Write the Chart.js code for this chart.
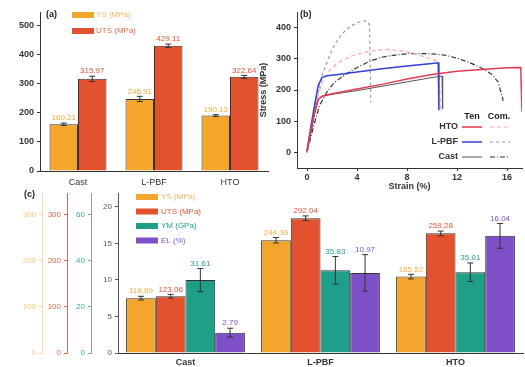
<!DOCTYPE html>
<html>
<head>
<meta charset="utf-8">
<script src="https://cdn.jsdelivr.net/npm/chart.js"></script>
<style>
  body { margin: 0; background: #fff; width: 525px; height: 367px; position: relative; overflow: hidden; }
  canvas { position: absolute; }
</style>
</head>
<body>
<canvas id="panel-a" width="272" height="192" style="left:0;top:0"></canvas>
<canvas id="panel-b" width="267" height="192" style="left:258px;top:0"></canvas>
<canvas id="panel-c" width="525" height="181" style="left:0;top:186px"></canvas>
<script>
// ---- data ----
const groups = ['Cast', 'L-PBF', 'HTO'];

// (a) tensile strength
const tenYS = [160.21, 246.91, 190.13];
const tenYSErr = [4, 9, 3];
const tenUTS = [315.97, 429.11, 322.64];
const tenUTSErr = [9, 6, 5];
const aTicks = [0, 100, 200, 300, 400, 500];

// (b) stress-strain curves (strain %, stress MPa)
const htoTenStrain = [0, 0.3, 0.6, 0.9, 1.2, 2, 4, 6, 8, 10, 12, 14, 16, 17.1, 17.2];
const htoTenStress = [5, 70, 130, 170, 180, 188, 203, 218, 235, 250, 260, 266, 271, 272, 130];
const lpbfTenStrain = [0, 0.3, 0.6, 0.9, 1.2, 1.6, 2.5, 4, 6, 8, 10, 10.5, 10.55];
const lpbfTenStress = [5, 80, 150, 215, 240, 246, 250, 258, 268, 277, 285, 287, 135];
const castTenStrain = [0, 0.3, 0.6, 0.9, 1.2, 2, 3, 4, 6, 8, 10, 10.8, 10.85];
const castTenStress = [3, 60, 120, 168, 180, 186, 192, 198, 212, 226, 240, 245, 140];
const htoComStrain = [0, 0.4, 0.8, 1.2, 1.8, 2.5, 3.5, 4.5, 5.5, 6.5, 7.5, 8.5, 9.5, 10.5, 10.7];
const htoComStress = [0, 90, 170, 225, 262, 288, 308, 320, 327, 330, 326, 318, 305, 292, 140];
const lpbfComStrain = [0, 0.4, 0.8, 1.2, 1.7, 2.2, 2.8, 3.5, 4.2, 4.7, 5.0, 5.1];
const lpbfComStress = [0, 90, 175, 245, 300, 345, 380, 405, 418, 422, 410, 160];
const castComStrain = [0, 0.5, 1, 1.6, 2.2, 3, 4, 5, 6, 7, 8, 9, 10, 11, 12, 13, 14, 14.8, 15.3, 15.7];
const castComStress = [0, 80, 150, 194, 225, 247, 272, 292, 305, 312, 316, 317, 316, 312, 302, 288, 270, 250, 225, 165];
const curveNames = ['HTO', 'L-PBF', 'Cast'];
const strainTicks = [0, 4, 8, 12, 16];
const stressTicks = [0, 100, 200, 300, 400];

// (c) properties
const ysVals = [118.89, 244.36, 165.52];
const ysErr = [4, 6, 5];
const utsVals = [123.06, 292.04, 259.28];
const utsErr = [4, 5, 5];
const ymVals = [31.61, 35.83, 35.01];
const ymErr = [5, 6, 4];
const elVals = [2.79, 10.97, 16.04];
const elErr = [0.6, 2.5, 1.7];
const mpaTicks = [0, 100, 200, 300];
const gpaTicks = [0, 20, 40, 60];
const elTicks = [0, 5, 10, 15, 20];

const ORANGE = '#F3A62B', RED = '#E2522F', TEAL = '#1F9E88', PURPLE = '#7E50C8';
const FONT = 'Liberation Sans';
const tickFont = { family: FONT, size: 9, weight: 'bold' };

// put the ticks exactly on the listed values
const fixedTicks = vals => scale => { scale.ticks = vals.map(v => ({ value: v })); };

// error bars + value labels on bar charts
const barNotes = {
  id: 'barNotes',
  afterDatasetsDraw(chart, args, opts) {
    const ctx = chart.ctx;
    ctx.save();
    opts.errs.forEach((errArr, di) => {
      const meta = chart.getDatasetMeta(di);
      const ds = chart.data.datasets[di];
      const ys = chart.scales[meta.yAxisID];
      meta.data.forEach((bar, i) => {
        const v = ds.data[i];
        const top = ys.getPixelForValue(v + errArr[i]);
        const bot = ys.getPixelForValue(v - errArr[i]);
        ctx.strokeStyle = '#333';
        ctx.lineWidth = 1;
        ctx.beginPath();
        ctx.moveTo(bar.x, bot); ctx.lineTo(bar.x, top);
        ctx.moveTo(bar.x - 3, top); ctx.lineTo(bar.x + 3, top);
        ctx.moveTo(bar.x - 3, bot); ctx.lineTo(bar.x + 3, bot);
        ctx.stroke();
        ctx.fillStyle = opts.colors[di];
        ctx.font = '8px ' + FONT;
        ctx.textAlign = 'center';
        ctx.textBaseline = 'bottom';
        ctx.fillText(v.toFixed(2), bar.x, top - 1);
      });
    });
    ctx.restore();
  }
};

// ---- panel (a) ----
new Chart('panel-a', {
  type: 'bar',
  data: {
    labels: groups,
    datasets: [
      { label: 'YS (MPa)', data: tenYS, backgroundColor: ORANGE, borderColor: '#333', borderWidth: 1 },
      { label: 'UTS (MPa)', data: tenUTS, backgroundColor: RED, borderColor: '#333', borderWidth: 1 }
    ]
  },
  options: {
    responsive: false,
    animation: false,
    layout: { padding: { top: 12, right: 4, left: 0, bottom: 0 } },
    categoryPercentage: 0.75,
    barPercentage: 1,
    plugins: {
      legend: { display: false },
      tooltip: { enabled: false },
      barNotes: { errs: [tenYSErr, tenUTSErr], colors: ['#F0A840', '#E0553A'] }
    },
    scales: {
      x: {
        grid: { display: false, drawTicks: false },
        border: { color: '#333' },
        ticks: { font: { family: FONT, size: 9 }, color: '#333', padding: 6 },
        afterFit(s) { s.height = 21; }
      },
      y: {
        min: 0, max: 545,
        ticks: { font: tickFont, color: '#333', padding: 3 },
        afterBuildTicks: fixedTicks(aTicks),
        grid: { drawOnChartArea: false, tickLength: 3, color: '#333' },
        border: { color: '#333' },
        afterFit(s) { s.width = 40; }
      }
    }
  },
  plugins: [barNotes, {
    id: 'decoA',
    afterDraw(chart) {
      const ctx = chart.ctx;
      ctx.save();
      ctx.font = 'bold 9px ' + FONT;
      ctx.fillStyle = '#222';
      ctx.textBaseline = 'middle';
      ctx.fillText('(a)', 46, 15);
      chart.data.datasets.forEach((ds, i) => {
        const y = 15 + i * 16;
        ctx.fillStyle = ds.backgroundColor;
        ctx.fillRect(72, y - 3, 22, 6);
        ctx.fillStyle = i === 0 ? '#F6B864' : '#E2694C';
        ctx.font = '8px ' + FONT;
        ctx.fillText(ds.label, 96, y);
      });
      ctx.restore();
    }
  }]
});

// ---- panel (b) ----
const pts = (xs, ys) => xs.map((x, i) => ({ x: x, y: ys[i] }));
const curve = (label, xs, ys, color, width, dash) => ({
  label: label, data: pts(xs, ys), showLine: true, pointRadius: 0,
  borderColor: color, borderWidth: width, borderDash: dash, fill: false
});

new Chart('panel-b', {
  type: 'scatter',
  data: {
    datasets: [
      curve('HTO Ten', htoTenStrain, htoTenStress, '#E5394F', 1.5, []),
      curve('L-PBF Ten', lpbfTenStrain, lpbfTenStress, '#3140D8', 1.5, []),
      curve('Cast Ten', castTenStrain, castTenStress, '#555', 1, []),
      curve('HTO Com', htoComStrain, htoComStress, '#F2A7A7', 1.2, [4, 3]),
      curve('L-PBF Com', lpbfComStrain, lpbfComStress, '#999', 1.2, [3, 3]),
      curve('Cast Com', castComStrain, castComStress, '#333', 1.2, [5, 2, 1, 2])
    ]
  },
  options: {
    responsive: false,
    animation: false,
    layout: { padding: { top: 12, right: 3, left: 0, bottom: 0 } },
    plugins: { legend: { display: false }, tooltip: { enabled: false } },
    scales: {
      x: {
        type: 'linear', min: -0.8, max: 17.2,
        ticks: { font: tickFont, color: '#333', padding: 1 },
        afterBuildTicks: fixedTicks(strainTicks),
        grid: { drawOnChartArea: false, tickLength: 3, color: '#333' },
        border: { color: '#333' },
        title: { display: true, text: 'Strain (%)', font: tickFont, color: '#333', padding: 0 },
        afterFit(s) { s.height = 24; }
      },
      y: {
        min: -50, max: 450,
        ticks: { font: tickFont, color: '#333', padding: 3 },
        afterBuildTicks: fixedTicks(stressTicks),
        grid: { drawOnChartArea: false, tickLength: 3, color: '#333' },
        border: { color: '#333' },
        title: { display: true, text: 'Stress (MPa)', font: tickFont, color: '#333', padding: 0 },
        afterFit(s) { s.width = 39; }
      }
    }
  },
  plugins: [{
    id: 'decoB',
    afterDraw(chart) {
      const ctx = chart.ctx;
      const ds = chart.data.datasets;
      ctx.save();
      ctx.font = 'bold 9px ' + FONT;
      ctx.fillStyle = '#222';
      ctx.textBaseline = 'middle';
      ctx.fillText('(b)', 42, 15);
      ctx.textAlign = 'center';
      ctx.fillText('Ten', 214, 117);
      ctx.fillText('Com.', 241, 117);
      curveNames.forEach((name, i) => {
        const y = 127 + i * 15;
        ctx.textAlign = 'right';
        ctx.fillStyle = '#333';
        ctx.fillText(name, 200, y);
        [ds[i], ds[i + 3]].forEach((d, k) => {
          ctx.strokeStyle = d.borderColor;
          ctx.lineWidth = d.borderWidth;
          ctx.setLineDash(d.borderDash);
          ctx.beginPath();
          ctx.moveTo(204 + k * 28, y);
          ctx.lineTo(224 + k * 28, y);
          ctx.stroke();
        });
        ctx.setLineDash([]);
      });
      ctx.restore();
    }
  }]
});

// ---- panel (c) ----
const sideAxis = (max, tickVals, color, lineColor, dash, weight, width) => ({
  position: 'left', min: 0, max: max, weight: weight,
  ticks: { font: { family: FONT, size: 8 }, color: color, padding: 3 },
  afterBuildTicks: fixedTicks(tickVals),
  grid: { drawOnChartArea: false, tickLength: 3, color: lineColor },
  border: { color: lineColor, dash: dash },
  afterFit(s) { s.width = width; }
});

new Chart('panel-c', {
  type: 'bar',
  data: {
    labels: groups,
    datasets: [
      { label: 'YS (MPa)', data: ysVals, yAxisID: 'yYS', backgroundColor: ORANGE, borderColor: '#333', borderWidth: 1 },
      { label: 'UTS (MPa)', data: utsVals, yAxisID: 'yUTS', backgroundColor: RED, borderColor: '#333', borderWidth: 1 },
      { label: 'YM (GPa)', data: ymVals, yAxisID: 'yYM', backgroundColor: TEAL, borderColor: '#333', borderWidth: 1 },
      { label: 'EL (%)', data: elVals, yAxisID: 'yEL', backgroundColor: PURPLE, borderColor: '#333', borderWidth: 1 }
    ]
  },
  options: {
    responsive: false,
    animation: false,
    layout: { padding: { top: 6, right: 2, left: 0, bottom: 0 } },
    categoryPercentage: 0.88,
    barPercentage: 1,
    plugins: {
      legend: { display: false },
      tooltip: { enabled: false },
      barNotes: { errs: [ysErr, utsErr, ymErr, elErr], colors: ['#F0B040', '#E0553A', '#1F9E88', '#7E50C8'] }
    },
    scales: {
      x: {
        grid: { display: false, drawTicks: false },
        border: { color: '#333' },
        ticks: { font: tickFont, color: '#333', padding: 4 },
        afterFit(s) { s.height = 14; }
      },
      yYS: sideAxis(345, mpaTicks, '#F7C67A', '#F8D9A8', [], 3, 42),
      yUTS: sideAxis(345, mpaTicks, '#E2694C', '#E2694C', [], 2, 25),
      yYM: sideAxis(69, gpaTicks, '#3AAA92', '#9A9A9A', [3, 2], 1, 24),
      yEL: sideAxis(21.8, elTicks, '#555', '#555', [], 0, 27)
    }
  },
  plugins: [barNotes, {
    id: 'decoC',
    afterDraw(chart) {
      const ctx = chart.ctx;
      const textCols = ['#F2B555', '#E2553A', '#1F9E88', '#7E50C8'];
      ctx.save();
      ctx.font = 'bold 9px ' + FONT;
      ctx.fillStyle = '#222';
      ctx.textBaseline = 'middle';
      ctx.fillText('(c)', 24, 9);
      chart.data.datasets.forEach((ds, i) => {
        const y = 11 + i * 14.5;
        ctx.fillStyle = ds.backgroundColor;
        ctx.fillRect(136, y - 3, 22, 6);
        ctx.fillStyle = textCols[i];
        ctx.font = '8px ' + FONT;
        ctx.fillText(ds.label, 161, y);
      });
      ctx.restore();
    }
  }]
});
</script>
</body>
</html>
